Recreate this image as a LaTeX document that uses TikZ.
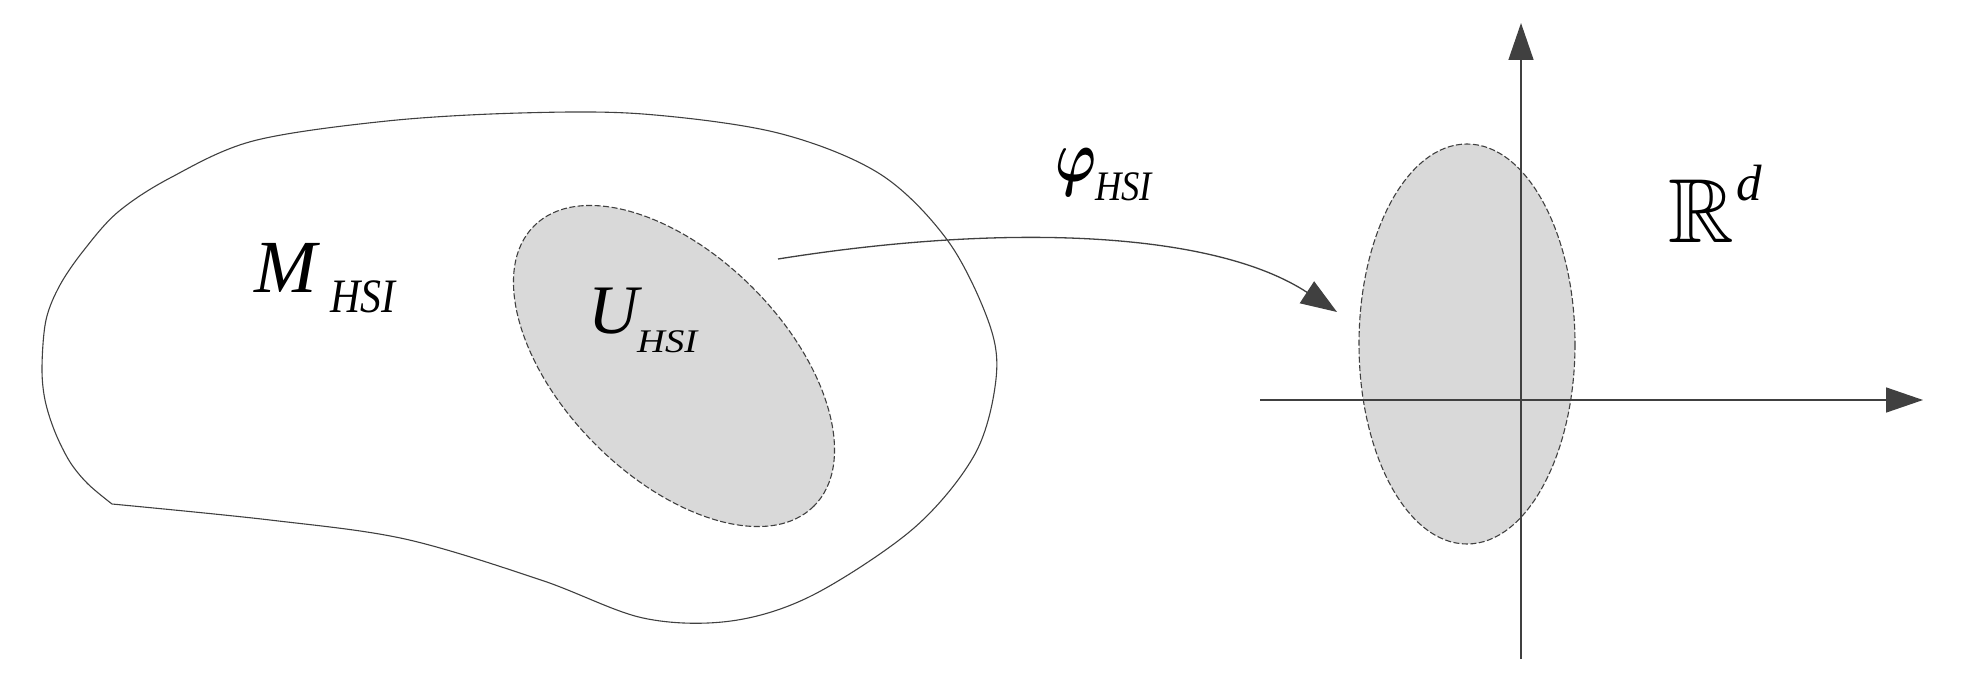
\documentclass[tikz,border=0pt]{standalone}
\usepackage{amsmath}
\usepackage{amssymb}
\usepackage{fontspec}
\setmainfont{Liberation Serif}
\usepackage{graphicx}
\usetikzlibrary{arrows.meta}
\definecolor{linegray}{HTML}{404040}
\definecolor{fillgray}{HTML}{D9D9D9}
\begin{document}
\begin{tikzpicture}[x=1pt,y=-1pt,
  outline/.style={draw=linegray, line width=1.1pt, line join=round},
  region/.style={fill=fillgray, draw=linegray, line width=1.1pt, dash pattern=on 6pt off 2.5pt},
  axis/.style={draw=linegray, line width=1.5pt, -{Triangle[length=37pt,width=25pt]}},
  maparrow/.style={draw=linegray, line width=1.3pt, -{Triangle[length=36pt,width=26pt]}},
  lbl/.style={inner sep=0pt, anchor=base west, text=black},
]
\useasboundingbox (0,0) rectangle (1961,685);
% manifold outline
\draw[outline] plot[smooth, tension=0.55] coordinates {(112,504) (88,484) (70,462) (55,432) (45,400) (42,367) (46,320) (60,285) (84,250) (118,212) (170,178) (253,141) (387,121) (520,113) (643,114) (778,133) (880,174) (948,241) (989,323) (996,379) (975,454) (914,528) (813,595) (731,621) (643,618) (541,580) (405,539) (270,520) (112,504)};
% chart domain
\draw[region, rotate around={-45:(674,366)}] (674,366) ellipse [x radius=198, y radius=111];
% image in R^d
\draw[region] (1467,344) ellipse [x radius=108, y radius=200];
% axes
\coordinate (xL) at (1260,400);
\coordinate (xR) at (1923,400);
\coordinate (yB) at (1521,659);
\coordinate (yT) at (1521,23);
\draw[axis] (xL) -- (xR);
\draw[axis] (yB) -- (yT);
% map arrow
\coordinate (phistart) at (778,259);
\coordinate (phiend) at (1337,312);
\draw[maparrow] (phistart) .. controls (1010,222) and (1215,232) .. (phiend);
% labels
\node[lbl, font=\fontsize{75}{75}\selectfont\itshape] (mM) at (254,292) {M};
\node[lbl, font=\fontsize{48}{48}\selectfont\itshape] (mSub) at (330,312) {\scalebox{0.87}[1]{HSI}};
\node[lbl, font=\fontsize{69.5}{70}\selectfont\itshape] (uU) at (588,333) {U};
\node[lbl, font=\fontsize{33}{33}\selectfont\itshape] (uSub) at (637,352) {\scalebox{1.17}[1]{HSI}};
\node[lbl] (phi) at (1055,181) {\scalebox{5.5}[7.4]{$\boldsymbol{\varphi}$}};
\node[lbl, font=\fontsize{42}{42}\selectfont\itshape] (phiSub) at (1095,200) {\scalebox{0.87}[1]{HSI}};
\node[lbl] (R) at (1668,242) {\scalebox{9.1}{$\mathbb{R}$}};
\node[lbl, font=\fontsize{51}{51}\selectfont\itshape] (dsup) at (1736,200) {d};
\end{tikzpicture}
\end{document}
